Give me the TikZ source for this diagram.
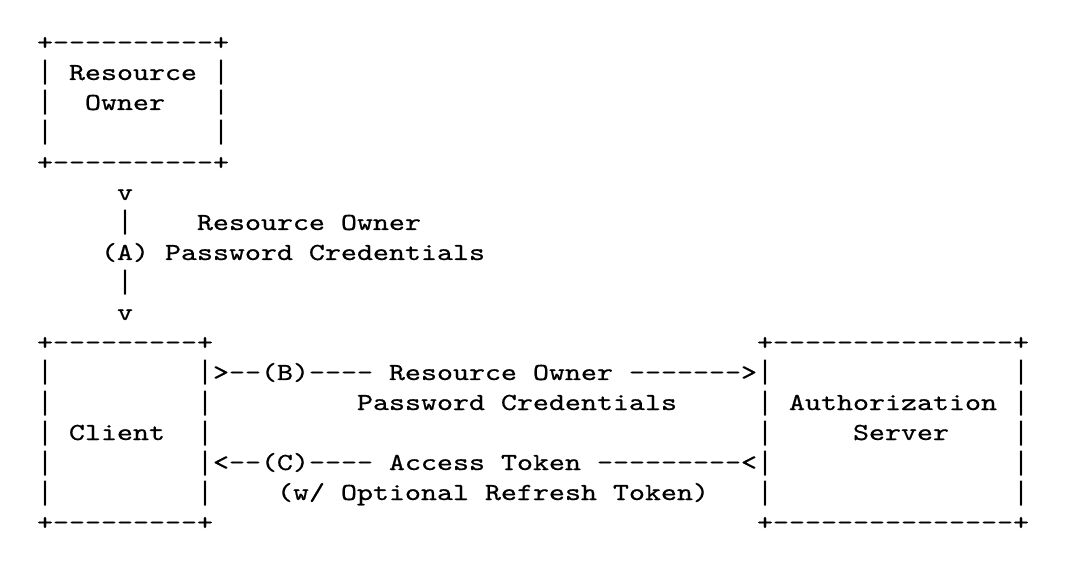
\documentclass[tikz,border=0pt]{standalone}
\usepackage{fontspec}
\newfontfamily\courfont{lmmono10-regular.otf}[FakeStretch=1.244,FakeBold=0.6]
\newfontfamily\barfont{Liberation Mono}
\newcommand\vb{{\barfont\fontsize{26.67pt}{30pt}\selectfont|}}
\begin{document}
\begin{tikzpicture}[x=16pt,y=-30pt,
  seg/.style={inner sep=0pt,outer sep=0pt,anchor=base west,
    font=\courfont\fontsize{24.5pt}{30pt}\selectfont,text=black}]
\fill[white] (-37pt,50pt) rectangle (1029pt,-514pt);
\useasboundingbox (-37pt,50pt) rectangle (1029pt,-514pt);
% Resource Owner box
\node[seg] (r0) at (0,0) {+----------+};
\node[seg] (r1a) at (0,1) {\vb};
\node[seg] (r1b) at (2,1) {Resource};
\node[seg] (r1c) at (11,1) {\vb};
\node[seg] (r2a) at (0,2) {\vb};
\node[seg] (r2b) at (3,2) {Owner};
\node[seg] (r2c) at (11,2) {\vb};
\node[seg] (r3a) at (0,3) {\vb};
\node[seg] (r3c) at (11,3) {\vb};
\node[seg] (r4) at (0,4) {+----------+};
% flow A
\node[seg] (r5) at (5,5) {v};
\node[seg] (r6a) at (5,6) {\vb};
\node[seg] (r6b) at (10,6) {Resource Owner};
\node[seg] (r7) at (4,7) {(A) Password Credentials};
\node[seg] (r8) at (5,8) {\vb};
\node[seg] (r9) at (5,9) {v};
% Client and Authorization Server
\node[seg] (r10a) at (0,10) {+---------+};
\node[seg] (r10b) at (45,10) {+---------------+};
\node[seg] (r11a) at (0,11) {\vb};
\node[seg] (r11b) at (10,11) {\vb>--(B)---- Resource Owner ------->\vb};
\node[seg] (r11c) at (61,11) {\vb};
\node[seg] (r12a) at (0,12) {\vb};
\node[seg] (r12b) at (10,12) {\vb};
\node[seg] (r12c) at (20,12) {Password Credentials};
\node[seg] (r12d) at (45,12) {\vb};
\node[seg] (r12e) at (47,12) {Authorization};
\node[seg] (r12f) at (61,12) {\vb};
\node[seg] (r13a) at (0,13) {\vb};
\node[seg] (r13b) at (2,13) {Client};
\node[seg] (r13c) at (10,13) {\vb};
\node[seg] (r13d) at (45,13) {\vb};
\node[seg] (r13e) at (51,13) {Server};
\node[seg] (r13f) at (61,13) {\vb};
\node[seg] (r14a) at (0,14) {\vb};
\node[seg] (r14b) at (10,14) {\vb<--(C)---- Access Token ---------<\vb};
\node[seg] (r14c) at (61,14) {\vb};
\node[seg] (r15a) at (0,15) {\vb};
\node[seg] (r15b) at (10,15) {\vb};
\node[seg] (r15c) at (15,15) {(w/ Optional Refresh Token)};
\node[seg] (r15d) at (45,15) {\vb};
\node[seg] (r15e) at (61,15) {\vb};
\node[seg] (r16a) at (0,16) {+---------+};
\node[seg] (r16b) at (45,16) {+---------------+};
\end{tikzpicture}
\end{document}
